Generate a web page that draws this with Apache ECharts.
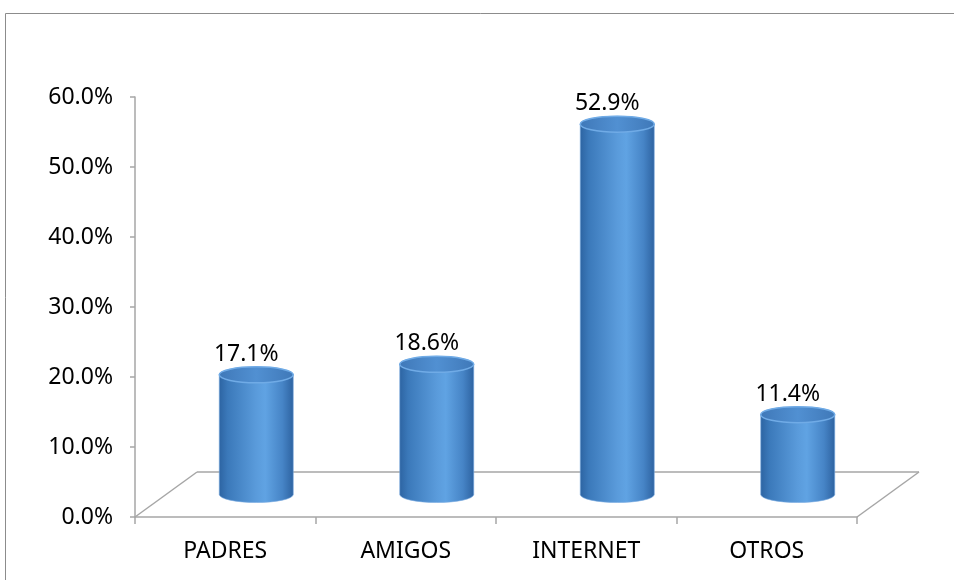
<!DOCTYPE html>
<html>
<head>
<meta charset="utf-8">
<script src="https://cdn.jsdelivr.net/npm/echarts@6/dist/echarts.min.js"></script>
<style>
  html, body { margin: 0; padding: 0; background: #fff; }
  #chart { width: 954px; height: 580px; }
</style>
</head>
<body>
<div id="chart"></div>
<script>
// Source categories and their shares
const categories = ['PADRES', 'AMIGOS', 'INTERNET', 'OTROS'];
const shares = [0.171, 0.186, 0.529, 0.114];
const valueTicks = [0, 0.1, 0.2, 0.3, 0.4, 0.5, 0.6];

const FONT = 'Noto Sans';
const FONT_SIZE = 23;
const DEPTH_X = 62;   // floor depth, horizontal
const DEPTH_Y = 45;   // floor depth, vertical
const AXIS_GRAY = '#a6a6a6';

const pct = v => (v * 100).toFixed(1) + '%';

const chart = echarts.init(document.getElementById('chart'), null, { renderer: 'canvas' });

// Floor of the pseudo-3D plot area
function renderFloor(params, api) {
  const cs = params.coordSys;
  const x0 = cs.x, x1 = cs.x + cs.width, y0 = cs.y + cs.height;
  const style = { stroke: AXIS_GRAY, lineWidth: 1.5, fill: null };
  return {
    type: 'group',
    children: [
      { type: 'line', shape: { x1: x0, y1: y0, x2: x0 + DEPTH_X, y2: y0 - DEPTH_Y }, style },
      { type: 'line', shape: { x1: x0 + DEPTH_X, y1: y0 - DEPTH_Y, x2: x1 + DEPTH_X, y2: y0 - DEPTH_Y }, style },
      { type: 'line', shape: { x1: x1, y1: y0, x2: x1 + DEPTH_X, y2: y0 - DEPTH_Y }, style }
    ]
  };
}

// Cylinder for each category, set at mid depth of the floor
function renderCylinder(params, api) {
  const idx = api.value(0);
  const val = api.value(1);
  const top = api.coord([idx, val]);
  const base = api.coord([idx, 0]);
  const band = api.size([1, 0])[0];
  const rx = band * 0.205;
  const ry = 8;
  const cx = top[0] + DEPTH_X / 2;
  const ty = top[1] - DEPTH_Y / 2;
  const by = base[1] - DEPTH_Y / 2;

  const body = 'M' + (cx - rx) + ' ' + ty +
    ' L' + (cx - rx) + ' ' + by +
    ' A' + rx + ' ' + ry + ' 0 0 0 ' + (cx + rx) + ' ' + by +
    ' L' + (cx + rx) + ' ' + ty +
    ' A' + rx + ' ' + ry + ' 0 0 0 ' + (cx - rx) + ' ' + ty + ' Z';
  const cap = 'M' + (cx - rx) + ' ' + ty +
    ' A' + rx + ' ' + ry + ' 0 1 0 ' + (cx + rx) + ' ' + ty +
    ' A' + rx + ' ' + ry + ' 0 1 0 ' + (cx - rx) + ' ' + ty + ' Z';

  return {
    type: 'group',
    children: [
      {
        type: 'path',
        shape: { pathData: body },
        style: {
          fill: new echarts.graphic.LinearGradient(0, 0, 1, 0, [
            { offset: 0, color: '#2c63a1' },
            { offset: 0.12, color: '#3b79ba' },
            { offset: 0.5, color: '#5a9bdb' },
            { offset: 0.62, color: '#60a3e3' },
            { offset: 0.85, color: '#4684c6' },
            { offset: 1, color: '#2d62a0' }
          ]),
          stroke: 'rgba(120,170,225,0.6)',
          lineWidth: 1
        }
      },
      {
        type: 'path',
        shape: { pathData: cap },
        style: {
          fill: new echarts.graphic.LinearGradient(0, 0, 1, 0, [
            { offset: 0, color: '#3f78b8' },
            { offset: 0.5, color: '#5190d2' },
            { offset: 1, color: '#3f78b8' }
          ]),
          stroke: '#70abe6',
          lineWidth: 1.5
        }
      },
      {
        type: 'text',
        x: cx - 10,
        y: ty - ry - 1,
        style: {
          text: pct(val),
          fill: '#000',
          font: FONT_SIZE + 'px "' + FONT + '"',
          align: 'center',
          verticalAlign: 'bottom'
        }
      }
    ]
  };
}

chart.setOption({
  animation: false,
  backgroundColor: '#fff',
  graphic: [
    {
      type: 'polyline',
      shape: { points: [[5.5, 600], [5.5, 13.5], [960, 13.5]] },
      style: { fill: null, stroke: '#8c8c8c', lineWidth: 1 },
      z: -10
    }
  ],
  grid: { left: 135, right: 97, top: 97, bottom: 63 },
  xAxis: {
    type: 'category',
    data: categories,
    axisLine: { lineStyle: { color: AXIS_GRAY, width: 1.5 } },
    axisTick: { show: true, length: 7, lineStyle: { color: AXIS_GRAY, width: 1.5 } },
    axisLabel: { color: '#000', fontFamily: FONT, fontSize: FONT_SIZE, margin: 23 }
  },
  yAxis: {
    type: 'value',
    min: valueTicks[0],
    max: valueTicks[valueTicks.length - 1],
    interval: 0.1,
    splitLine: { show: false },
    axisLine: { show: true, lineStyle: { color: AXIS_GRAY, width: 1.5 } },
    axisTick: { show: true, length: 5, lineStyle: { color: AXIS_GRAY, width: 1.5 } },
    axisLabel: { color: '#000', fontFamily: FONT, fontSize: FONT_SIZE, margin: 22, formatter: v => pct(v) }
  },
  series: [
    {
      type: 'custom',
      renderItem: renderFloor,
      data: [[0, 0]],
      z: 1,
      silent: true
    },
    {
      type: 'custom',
      renderItem: renderCylinder,
      encode: { x: 0, y: 1 },
      data: shares.map((v, i) => [i, v]),
      z: 2
    }
  ]
});
</script>
</body>
</html>
